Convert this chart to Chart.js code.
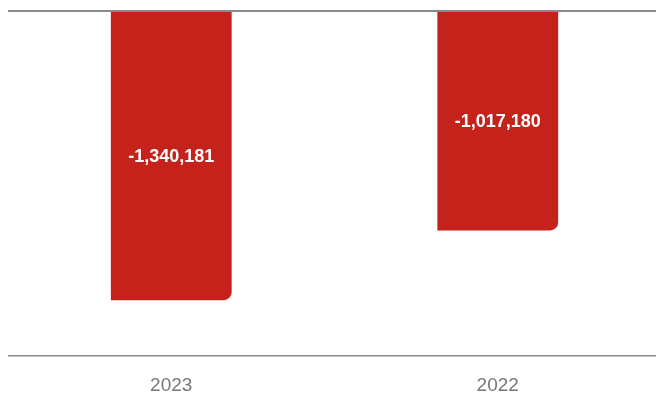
<!DOCTYPE html>
<html>
<head>
<meta charset="utf-8">
<script src="https://cdn.jsdelivr.net/npm/chart.js@4"></script>
<style>
  html, body { margin: 0; padding: 0; background: #fff; overflow: hidden; }
  #wrap { width: 656px; height: 396px; overflow: hidden; }
  canvas { display: block; }
</style>
</head>
<body>
<div id="wrap"><canvas id="chart" width="662" height="396"></canvas></div>
<script>
const categories = ["2023", "2022"];
const values = [-1340181, -1017180];
const yTicks = [-1600000, 0];

const barColor = "#C5221B";
const lineColor = "#8a8a8a";
const labelFont = "'Liberation Sans Narrow', 'Liberation Sans', Arial, sans-serif";

// white value labels in the middle of each bar
const valueLabels = {
  id: "valueLabels",
  afterDatasetsDraw(chart) {
    const ctx = chart.ctx;
    const meta = chart.getDatasetMeta(0);
    ctx.save();
    ctx.fillStyle = "#ffffff";
    ctx.font = "bold 18px " + labelFont;
    ctx.textAlign = "center";
    ctx.textBaseline = "middle";
    meta.data.forEach((bar, i) => {
      const v = chart.data.datasets[0].data[i];
      ctx.fillText(v.toLocaleString("en-US"), bar.x, (bar.y + bar.base) / 2 + 1);
    });
    ctx.restore();
  }
};

new Chart(document.getElementById("chart").getContext("2d"), {
  type: "bar",
  data: {
    labels: categories,
    datasets: [{
      data: values,
      backgroundColor: barColor,
      borderRadius: { bottomRight: 8 },
      borderSkipped: "start",
      barPercentage: 0.37,
      categoryPercentage: 1
    }]
  },
  options: {
    responsive: false,
    animation: false,
    layout: { padding: { left: 8, right: 1, top: 11, bottom: -11 } },
    plugins: {
      legend: { display: false },
      tooltip: { enabled: false }
    },
    scales: {
      x: {
        grid: { display: false },
        border: { display: false },
        ticks: {
          color: "#777777",
          padding: 10,
          font: { family: labelFont, size: 19 }
        }
      },
      y: {
        min: yTicks[0],
        max: yTicks[yTicks.length - 1],
        afterBuildTicks: axis => { axis.ticks = yTicks.map(v => ({ value: v })); },
        ticks: { display: false },
        border: { display: false },
        grid: {
          drawTicks: false,
          color: lineColor,
          lineWidth: c => (c.tick && c.tick.value === 0 ? 2 : 1.5)
        }
      }
    }
  },
  plugins: [valueLabels]
});
</script>
</body>
</html>
